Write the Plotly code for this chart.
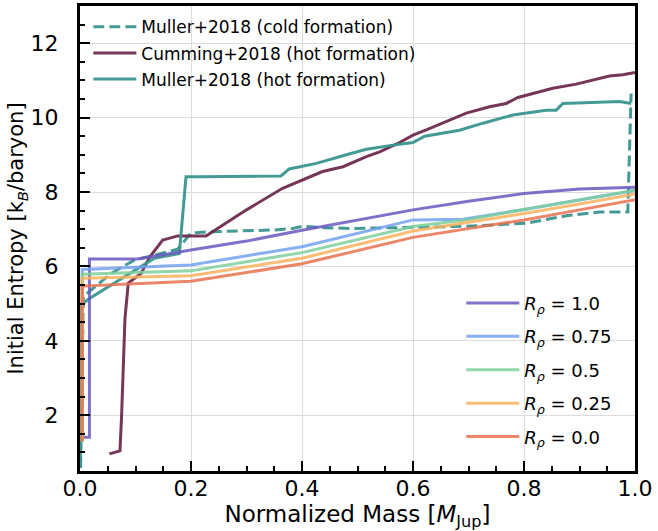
import plotly.graph_objects as go

# ---------------- data ----------------
r_labels = ["1.0", "0.75", "0.5", "0.25", "0.0"]

r10_x = [0.004, 0.017, 0.017, 0.104, 0.2, 0.3, 0.4, 0.5, 0.6, 0.7, 0.8, 0.9, 1.0]
r10_y = [1.41, 1.41, 6.2, 6.2, 6.44, 6.68, 6.97, 7.25, 7.52, 7.75, 7.96, 8.08, 8.13]

r075_x = [0.004, 0.004, 0.2, 0.4, 0.6, 0.69, 0.8, 0.9, 1.0]
r075_y = [1.3, 5.92, 6.04, 6.53, 7.25, 7.27, 7.53, 7.78, 8.04]

r05_x = [0.004, 0.004, 0.2, 0.4, 0.6, 0.7, 0.8, 0.9, 1.0]
r05_y = [1.3, 5.79, 5.88, 6.37, 7.07, 7.26, 7.53, 7.78, 8.05]

r025_x = [0.004, 0.004, 0.2, 0.4, 0.6, 0.8, 0.9, 1.0]
r025_y = [1.3, 5.68, 5.75, 6.22, 6.95, 7.42, 7.68, 7.95]

r00_x = [0.004, 0.004, 0.2, 0.4, 0.6, 0.8, 0.9, 1.0]
r00_y = [1.3, 5.47, 5.6, 6.07, 6.78, 7.25, 7.52, 7.79]

muller_cold_x = [0.001, 0.006, 0.056, 0.098, 0.176, 0.191, 0.2, 0.23, 0.353, 0.383, 0.401,
                 0.437, 0.49, 0.6, 0.696, 0.804, 0.852, 0.876, 0.936, 0.987, 0.993]
muller_cold_y = [0.58, 5.19, 5.81, 6.17, 6.46, 6.75, 6.9, 6.93, 6.98, 7.02, 7.08,
                 7.04, 7.02, 7.05, 7.08, 7.16, 7.29, 7.36, 7.46, 7.46, 10.65]

cumming_x = [0.053, 0.072, 0.075, 0.079, 0.081, 0.087, 0.11, 0.125, 0.149, 0.176, 0.227,
             0.30, 0.365, 0.437, 0.474, 0.516, 0.54, 0.576, 0.6, 0.624, 0.696, 0.738,
             0.768, 0.789, 0.816, 0.852, 0.894, 0.93, 0.954, 0.978, 1.0]
cumming_y = [0.96, 1.04, 2.0, 3.5, 4.6, 5.55, 5.81, 6.24, 6.71, 6.82, 6.82,
             7.52, 8.1, 8.55, 8.68, 8.95, 9.08, 9.33, 9.53, 9.67, 10.12, 10.29,
             10.38, 10.54, 10.65, 10.79, 10.9, 11.03, 11.12, 11.15, 11.21]

muller_hot_x = [0.001, 0.002, 0.017, 0.134, 0.179, 0.191, 0.215, 0.362, 0.377, 0.426, 0.48,
                0.516, 0.564, 0.6, 0.621, 0.642, 0.684, 0.726, 0.78, 0.84, 0.858, 0.87,
                0.912, 0.972, 0.993]
muller_hot_y = [0.58, 4.96, 5.14, 6.22, 6.35, 8.41, 8.41, 8.43, 8.62, 8.77, 9.0,
                9.15, 9.26, 9.33, 9.5, 9.56, 9.66, 9.85, 10.07, 10.2, 10.2, 10.38,
                10.4, 10.43, 10.38]

x_ticks = [0.0, 0.2, 0.4, 0.6, 0.8, 1.0]
y_ticks = [2, 4, 6, 8, 10, 12]

# ---------------- styles ----------------
r_series = [(r10_x, r10_y), (r075_x, r075_y), (r05_x, r05_y), (r025_x, r025_y), (r00_x, r00_y)]
r_colors = ["#6a58c0", "#74a2f2", "#7dd09c", "#f9b25e", "#e8714f"]
TEAL = "#3a9590"
MAROON = "#6f2c50"
FONT = "DejaVu Sans"

fig = go.Figure()

# reference curves first so the R_rho curves sit on top at the left edge
fig.add_trace(go.Scatter(x=muller_cold_x, y=muller_cold_y, mode="lines",
                         name="Muller+2018 (cold formation)",
                         line=dict(color=TEAL, width=3, dash="11px,5px"), opacity=0.95,
                         legend="legend", legendgroup="a"))
fig.add_trace(go.Scatter(x=cumming_x, y=cumming_y, mode="lines",
                         name="Cumming+2018 (hot formation)",
                         line=dict(color=MAROON, width=3), opacity=0.95,
                         legend="legend", legendgroup="b"))
fig.add_trace(go.Scatter(x=muller_hot_x, y=muller_hot_y, mode="lines",
                         name="Muller+2018 (hot formation)",
                         line=dict(color=TEAL, width=3), opacity=0.95,
                         legend="legend", legendgroup="c"))

for i, ((xs, ys), lab, col) in enumerate(zip(r_series, r_labels, r_colors)):
    fig.add_trace(go.Scatter(
        x=xs, y=ys, mode="lines", name=f"<i>R</i><sub><i>ρ</i></sub> = {lab}",
        line=dict(color=col, width=3), opacity=0.85,
        legend="legend2", legendgroup=f"r{i}"))

axis_common = dict(
    showline=True, linecolor="black", linewidth=3, mirror=True,
    showgrid=True, gridcolor="#dcdcdc", gridwidth=1.2,
    ticks="inside", ticklen=10, tickwidth=2, tickcolor="black",
    tickfont=dict(family=FONT, size=22, color="black"),
    zeroline=False,
)

fig.update_xaxes(
    range=[0, 1], tickvals=x_ticks, ticktext=[f"{v:.1f}" for v in x_ticks],
    ticklabelstandoff=-4,
    title=dict(text="Normalized Mass [<i>M</i><sub>Jup</sub>]",
               font=dict(family=FONT, size=23, color="black"), standoff=10),
    minor=dict(dtick=0.05, ticks="inside", ticklen=5, tickwidth=1.5, tickcolor="black", showgrid=False),
    **axis_common)
fig.update_yaxes(
    range=[0.5, 13], tickvals=y_ticks, ticktext=[str(v) for v in y_ticks],
    ticklabelstandoff=14,
    title=dict(text="Initial Entropy [k<sub><i>B</i></sub>/baryon]",
               font=dict(family=FONT, size=21, color="black"), standoff=0),
    minor=dict(dtick=0.5, ticks="inside", ticklen=5, tickwidth=1.5, tickcolor="black", showgrid=False),
    **axis_common)

fig.update_layout(
    width=658, height=531,
    margin=dict(l=80, r=23, t=6, b=60, autoexpand=False),
    paper_bgcolor="white", plot_bgcolor="white",
    font=dict(family=FONT, color="black"),
    legend=dict(x=0.015, y=0.993, xanchor="left", yanchor="top",
                bgcolor="rgba(255,255,255,0)", font=dict(family=FONT, size=17),
                traceorder="grouped", tracegroupgap=1, itemwidth=43),
    legend2=dict(x=0.687, y=0.035, xanchor="left", yanchor="bottom",
                 bgcolor="rgba(255,255,255,0)", font=dict(family=FONT, size=18),
                 traceorder="grouped", tracegroupgap=7, itemwidth=53),
)

fig.write_html("out.html", config={"displayModeBar": False},
               post_script="document.body.style.margin='0px';")
